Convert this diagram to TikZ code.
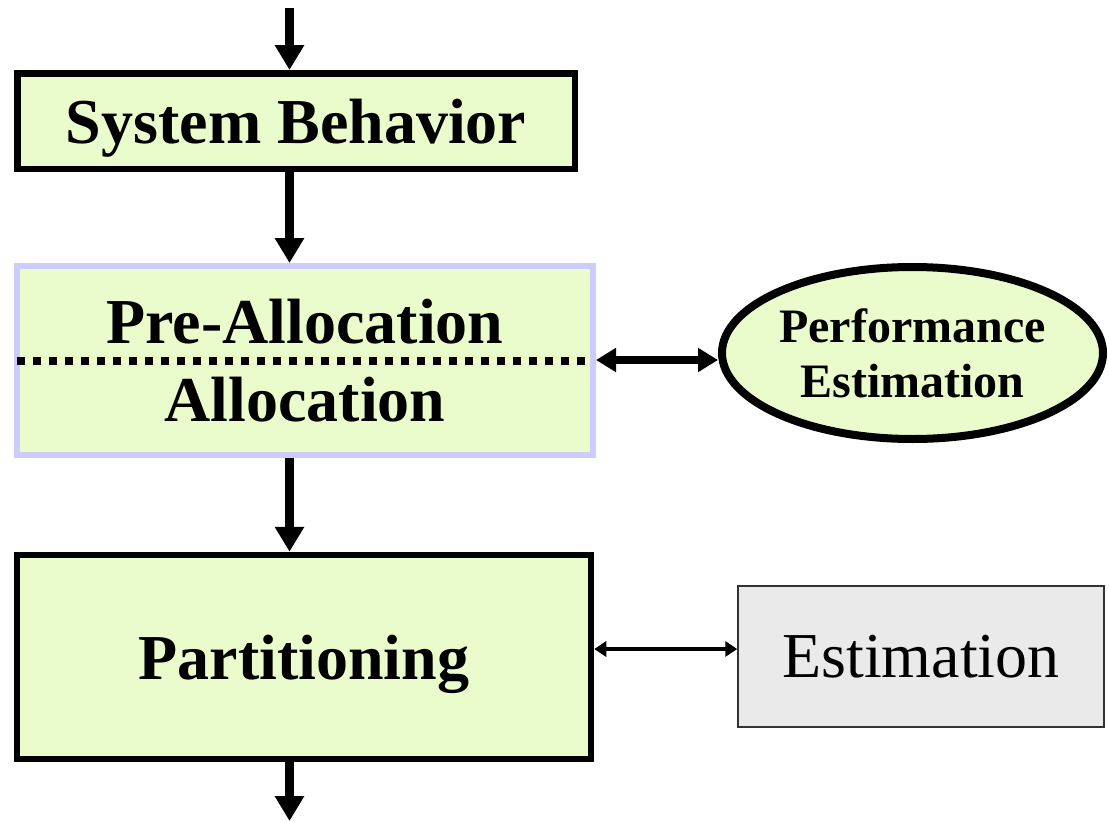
\documentclass[tikz,border=0pt]{standalone}
\usepackage{fontspec}
\setmainfont{Liberation Serif}
\usetikzlibrary{arrows.meta,shapes.geometric}
\definecolor{stagefill}{HTML}{EBFCCC}
\definecolor{lavender}{HTML}{CCCCFF}
\definecolor{estfill}{HTML}{EAEAEA}
\definecolor{estline}{HTML}{333333}
\tikzset{
  stagebox/.style={draw=black, line width=6.5pt, fill=stagefill, inner sep=0pt,
    font=\fontsize{64}{70}\selectfont\bfseries},
  flow/.style={line width=8.5pt, -{Triangle[length=25pt,width=28pt]}},
  bigtwoway/.style={line width=8pt, {Triangle[length=20pt,width=23pt]}-{Triangle[length=20pt,width=23pt]}},
  thintwoway/.style={line width=4pt, {Triangle[length=12pt,width=15pt]}-{Triangle[length=12pt,width=15pt]}},
  label/.style={inner sep=0pt, font=\fontsize{64}{70}\selectfont\bfseries}
}
\begin{document}
\begin{tikzpicture}[x=1pt,y=-1pt]
\useasboundingbox (0,0) rectangle (1109,822);

% main flow boxes
\node[stagebox, minimum width=557.5pt, minimum height=95.5pt, text depth=0pt] (sb) at (296,121) {System Behavior};
\node[draw=lavender, line width=6pt, fill=stagefill, inner sep=0pt,
      minimum width=576pt, minimum height=189pt] (pa) at (305,360.5) {};
\node[label, anchor=base] (pre) at (305,343) {Pre-Allocation};
\node[label, anchor=base] (alloc) at (305,421) {Allocation};
\draw[line width=8pt, dash pattern=on 8pt off 8pt] (16.5,361) coordinate (dl) -- (585,361) coordinate (dr);
\node[stagebox, minimum width=574pt, minimum height=204pt, text depth=0pt] (part) at (304,657) {Partitioning};

% estimators
\node[ellipse, draw=black, line width=8pt, fill=stagefill, inner sep=0pt,
      minimum width=381pt, minimum height=172pt, align=center,
      font=\fontsize{48}{55}\selectfont\bfseries] (pe) at (912.5,353) {Performance\\Estimation};
\node[draw=estline, line width=1.5pt, fill=estfill, inner sep=0pt,
      minimum width=366pt, minimum height=141pt, text depth=0pt,
      font=\fontsize{64}{70}\selectfont] (est) at (921,656.5) {Estimation};

% connectors
\coordinate (in) at (289.5,8);
\coordinate (out) at (289.5,821);
\draw[flow] (in) -- (in |- sb.north);
\draw[flow] (in |- sb.south) -- (in |- pa.north);
\draw[flow] (in |- pa.south) -- (in |- part.north);
\draw[flow] (in |- part.south) -- (out);
\draw[bigtwoway] (pa.east |- 0,360) -- (pe.west |- 0,360);
\draw[thintwoway] (part.east |- 0,649) -- (est.west |- 0,649);
\end{tikzpicture}
\end{document}
